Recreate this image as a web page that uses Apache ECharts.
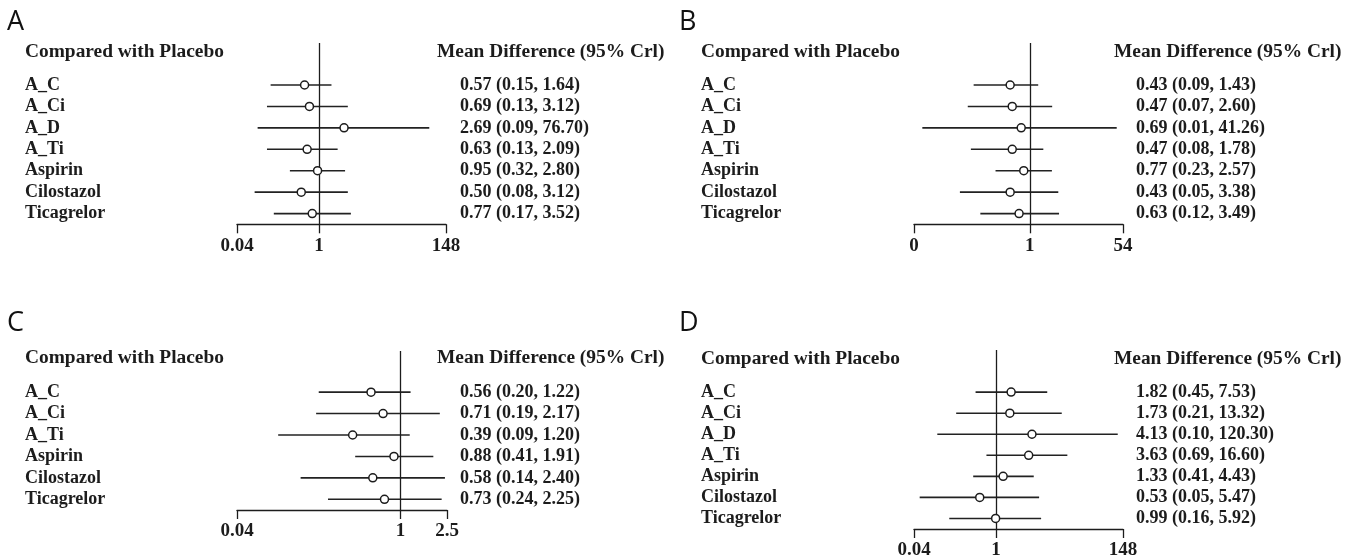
<!DOCTYPE html>
<html>
<head>
<meta charset="utf-8">
<script src="https://cdn.jsdelivr.net/npm/echarts@6/dist/echarts.min.js"></script>
<style>
html, body { margin: 0; padding: 0; background: #ffffff; }
#chart { width: 1349px; height: 560px; }
</style>
</head>
<body>
<div id="chart"></div>
<script>
// ---- Panel A ----
const namesA = ['A_C', 'A_Ci', 'A_D', 'A_Ti', 'Aspirin', 'Cilostazol', 'Ticagrelor'];
const estA   = [0.57, 0.69, 2.69, 0.63, 0.95, 0.50, 0.77];
const lowA   = [0.15, 0.13, 0.09, 0.13, 0.32, 0.08, 0.17];
const highA  = [1.64, 3.12, 76.70, 2.09, 2.80, 3.12, 3.52];
const ticksA = [0.04, 1, 148];
const tickLabelsA = ['0.04', '1', '148'];

// ---- Panel B ----
const namesB = ['A_C', 'A_Ci', 'A_D', 'A_Ti', 'Aspirin', 'Cilostazol', 'Ticagrelor'];
const estB   = [0.43, 0.47, 0.69, 0.47, 0.77, 0.43, 0.63];
const lowB   = [0.09, 0.07, 0.01, 0.08, 0.23, 0.05, 0.12];
const highB  = [1.43, 2.60, 41.26, 1.78, 2.57, 3.38, 3.49];
const ticksB = [0.007, 1, 54];
const tickLabelsB = ['0', '1', '54'];

// ---- Panel C ----
const namesC = ['A_C', 'A_Ci', 'A_Ti', 'Aspirin', 'Cilostazol', 'Ticagrelor'];
const estC   = [0.56, 0.71, 0.39, 0.88, 0.58, 0.73];
const lowC   = [0.20, 0.19, 0.09, 0.41, 0.14, 0.24];
const highC  = [1.22, 2.17, 1.20, 1.91, 2.40, 2.25];
const ticksC = [0.04, 1, 2.5];
const tickLabelsC = ['0.04', '1', '2.5'];

// ---- Panel D ----
const namesD = ['A_C', 'A_Ci', 'A_D', 'A_Ti', 'Aspirin', 'Cilostazol', 'Ticagrelor'];
const estD   = [1.82, 1.73, 4.13, 3.63, 1.33, 0.53, 0.99];
const lowD   = [0.45, 0.21, 0.10, 0.69, 0.41, 0.05, 0.16];
const highD  = [7.53, 13.32, 120.30, 16.60, 4.43, 5.47, 5.92];
const ticksD = [0.04, 1, 148];
const tickLabelsD = ['0.04', '1', '148'];

const panelLetters = ['A', 'B', 'C', 'D'];
const leftHeader = 'Compared with Placebo';
const rightHeader = 'Mean Difference (95% Crl)';

const panels = [
  { names: namesA, est: estA, low: lowA, high: highA, ticks: ticksA, tickLabels: tickLabelsA },
  { names: namesB, est: estB, low: lowB, high: highB, ticks: ticksB, tickLabels: tickLabelsB },
  { names: namesC, est: estC, low: lowC, high: highC, ticks: ticksC, tickLabels: tickLabelsC },
  { names: namesD, est: estD, low: lowD, high: highD, ticks: ticksD, tickLabels: tickLabelsD }
];

// Placement of each forest plot on the page
const layout = [
  { letterX: 7,   letterY: 22,  headY: 51.7, nameX: 25,  meanX: 437,  valueX: 460,
    grid: { left: 237, width: 209, top: 43,  height: 181.3 }, yMin: -1.96, yMax: 6.5 },
  { letterX: 679, letterY: 22,  headY: 51.7, nameX: 701, meanX: 1114, valueX: 1136,
    grid: { left: 914, width: 209, top: 43,  height: 181.3 }, yMin: -1.96, yMax: 6.5 },
  { letterX: 7,   letterY: 323, headY: 358,  nameX: 25,  meanX: 437,  valueX: 460,
    grid: { left: 237, width: 210, top: 351, height: 159 },   yMin: -1.92, yMax: 5.5 },
  { letterX: 679, letterY: 323, headY: 359,  nameX: 701, meanX: 1114, valueX: 1136,
    grid: { left: 914, width: 209, top: 350, height: 181.6 }, yMin: -2.0,  yMax: 6.5 }
];

const SERIF = "'Liberation Serif', 'Times New Roman', serif";
const INK = '#1c1c1c';
const fmt = v => v.toFixed(2);

const option = {
  animation: false,
  backgroundColor: '#ffffff',
  grid: [], xAxis: [], yAxis: [], series: [], graphic: []
};

panels.forEach((p, k) => {
  const L = layout[k];
  const rows = p.names.map((_, i) => i);
  const valueText = p.est.map((e, i) => fmt(e) + ' (' + fmt(p.low[i]) + ', ' + fmt(p.high[i]) + ')');

  option.grid.push(Object.assign({ containLabel: false }, L.grid));

  option.xAxis.push({
    type: 'log', gridIndex: k, logBase: 1000,
    min: p.ticks[0], max: p.ticks[p.ticks.length - 1],
    axisLine: { show: true, onZero: false, lineStyle: { color: INK, width: 1.3 } },
    axisTick: { show: true, length: 9, lineStyle: { color: INK, width: 1.3 } },
    splitLine: { show: false },
    axisLabel: {
      show: true, margin: 12, color: INK,
      fontFamily: SERIF, fontWeight: 'bold', fontSize: 19,
      showMinLabel: true, showMaxLabel: true,
      formatter: v => {
        let best = 0, bd = Infinity;
        p.ticks.forEach((t, j) => {
          const d = Math.abs(Math.log(v) - Math.log(t));
          if (d < bd) { bd = d; best = j; }
        });
        return p.tickLabels[best];
      }
    }
  });

  // left column: treatment names
  option.yAxis.push({
    type: 'value', gridIndex: k, inverse: true, min: L.yMin, max: L.yMax,
    axisLine: { show: false }, axisTick: { show: false }, splitLine: { show: false },
    axisLabel: {
      customValues: rows, align: 'left', margin: L.grid.left - L.nameX,
      color: INK, fontFamily: SERIF, fontWeight: 'bold', fontSize: 18,
      formatter: v => p.names[Math.round(v)]
    }
  });
  // right column: estimate with credible interval
  option.yAxis.push({
    type: 'value', gridIndex: k, position: 'right', inverse: true, min: L.yMin, max: L.yMax,
    axisLine: { show: false }, axisTick: { show: false }, splitLine: { show: false },
    axisLabel: {
      customValues: rows, align: 'left', margin: L.valueX - (L.grid.left + L.grid.width),
      color: INK, fontFamily: SERIF, fontWeight: 'bold', fontSize: 18,
      formatter: v => valueText[Math.round(v)]
    }
  });

  const yIdx = 2 * k;

  // credible-interval whiskers + reference line at 1
  option.series.push({
    type: 'custom', xAxisIndex: k, yAxisIndex: yIdx, z: 2,
    data: rows.map(i => [p.low[i], p.high[i], i]),
    encode: { x: [0, 1], y: 2 },
    renderItem: (params, api) => {
      const a = api.coord([api.value(0), api.value(2)]);
      const b = api.coord([api.value(1), api.value(2)]);
      return {
        type: 'line',
        shape: { x1: a[0], y1: a[1], x2: b[0], y2: b[1] },
        style: { stroke: '#222222', lineWidth: 1.6 }
      };
    },
    markLine: {
      silent: true, symbol: ['none', 'none'], animation: false,
      label: { show: false },
      lineStyle: { color: INK, width: 1.3, type: 'solid' },
      data: [{ xAxis: 1 }]
    }
  });

  // point estimates
  option.series.push({
    type: 'scatter', xAxisIndex: k, yAxisIndex: yIdx, z: 5,
    symbol: 'circle', symbolSize: 8,
    itemStyle: { color: '#ffffff', borderColor: INK, borderWidth: 1.5, opacity: 1 },
    data: rows.map(i => [p.est[i], i])
  });

  // panel letter and column headers
  option.graphic.push(
    { type: 'text', x: L.letterX, y: L.letterY,
      style: { text: panelLetters[k], fill: '#111', font: "400 27px 'Open Sans', sans-serif", textVerticalAlign: 'middle' } },
    { type: 'text', x: L.nameX, y: L.headY,
      style: { text: leftHeader, fill: INK, font: "bold 19.4px " + SERIF, textVerticalAlign: 'middle' } },
    { type: 'text', x: L.meanX, y: L.headY,
      style: { text: rightHeader, fill: INK, font: "bold 19.4px " + SERIF, textVerticalAlign: 'middle' } }
  );
});

const chart = echarts.init(document.getElementById('chart'), null, { renderer: 'canvas' });
chart.setOption(option);
</script>
</body>
</html>
